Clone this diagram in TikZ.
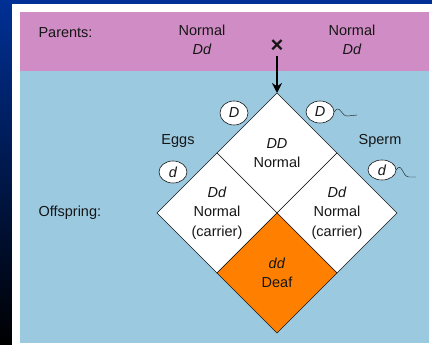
\documentclass[tikz,border=0pt]{standalone}
\usepackage{fontspec}
\setmainfont{Liberation Sans}
\usetikzlibrary{shapes.geometric, arrows.meta, positioning}
\definecolor{deepblue}{RGB}{0,48,150}
\definecolor{parentpink}{RGB}{208,140,196}
\definecolor{offblue}{RGB}{155,201,224}
\definecolor{deaforange}{RGB}{255,128,0}
\definecolor{inkgray}{RGB}{22,22,22}
\tikzset{
  x=1pt, y=-1pt,
  every node/.style={font=\fontsize{14.5}{19.5}\selectfont, align=center, text=inkgray}, % plain label text
  square/.style={diamond, draw=inkgray, thin, fill=white, minimum width=120pt,
    minimum height=120pt, inner sep=0pt, outer sep=0pt}, % one cell of the cross
  gamete/.style={ellipse, draw=inkgray, semithick, fill=white, minimum width=28pt,
    minimum height=22pt, inner sep=0pt, font=\fontsize{14.5}{14.5}\selectfont\itshape},
  tail/.style={draw=inkgray, thin}, % sperm tail
}

\begin{document}
\begin{tikzpicture}
    \useasboundingbox (0,0) rectangle (432,345);
    % backdrop and panels
    \shade[top color=deepblue, bottom color=black] (0,0) rectangle (432,345);
    \fill[white] (12,4) rectangle (432,345);
    \fill[parentpink] (20,12) rectangle (429,71);
    \fill[offblue] (20,71) rectangle (429,343);

    % parents row
    \node[anchor=west] (parents) at (35,33) {Parents:};
    \node (mother) at (202,40) {Normal\\\textit{Dd}};
    \node (father) at (352,40) {Normal\\\textit{Dd}};
    \node[font=\fontsize{22}{22}\selectfont\bfseries] (cross) at (277,46) {×};

    % offspring squares
    \node[square] (sqDD) at (277,153) {\textit{DD}\\Normal};
    \node[square, anchor=north east] (sqDdl) at (sqDD.south west) {\textit{Dd}\\Normal\\(carrier)};
    \node[square, anchor=north west] (sqDdr) at (sqDD.south east) {\textit{Dd}\\Normal\\(carrier)};
    \node[square, fill=deaforange, anchor=north] (sqdd) at (sqDD.south) {\textit{dd}\\Deaf};
    \draw[-{Stealth[length=10pt, width=10pt]}, line width=2.6pt] (cross.south) -- (sqDD.north);

    % labels
    \node[anchor=west] (offspring) at (35,213) {Offspring:};
    \node (eggs) at (178,141) {Eggs};
    \node (sperm) at (380,141) {Sperm};

    % gametes
    \node[gamete, minimum height=24pt] (eggD) at (234,113) {D};
    \node[gamete] (eggd) at (173,172) {d};
    \node[gamete] (spermD) at (320,112) {D};
    \node[gamete, minimum height=20pt] (spermd) at (382,170) {d};
    \draw[tail] (spermD.east) .. controls (340,103) and (341,117) .. (348,116) -- (357,115);
    \draw[tail] (spermd.east) .. controls (402,161) and (402,177) .. (409,177) -- (416,177);
  \end{tikzpicture}
\end{document}
